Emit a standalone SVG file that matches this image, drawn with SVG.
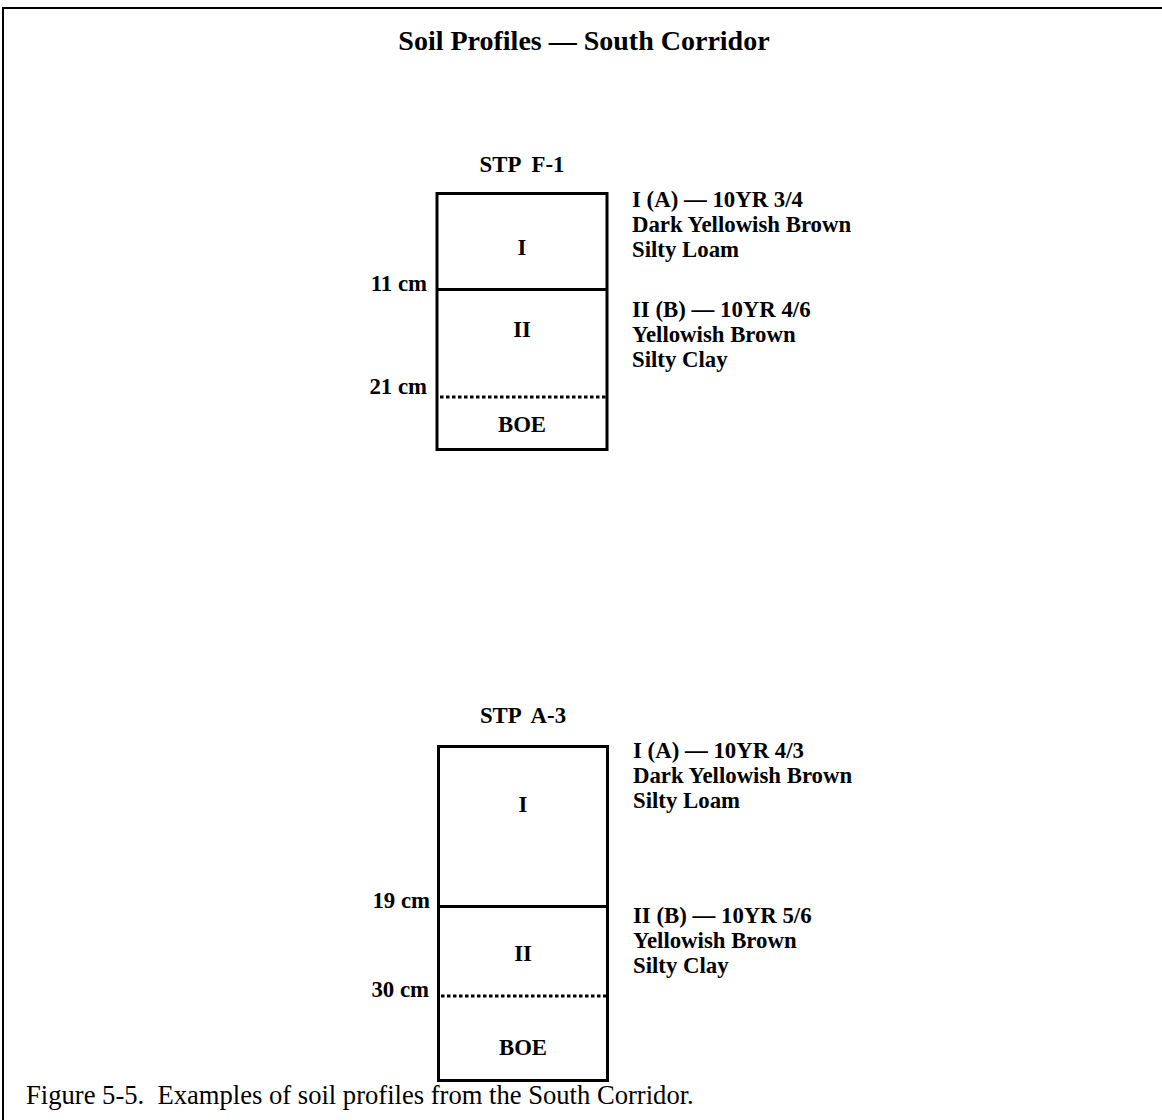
<svg xmlns="http://www.w3.org/2000/svg" width="1162" height="1120" viewBox="0 0 1162 1120">
<style>
  text { font-family: "Liberation Serif", "Times New Roman", serif; fill: #000; }
  .b { font-weight: bold; font-size: 22.8px; }
  .title { font-weight: bold; font-size: 28px; }
  .cap { font-size: 26.6px; white-space: pre; }
  .mid { text-anchor: middle; }
  .end { text-anchor: end; }
  .box { fill: #fff; stroke: #000; stroke-width: 3; }
  .solid { stroke: #000; stroke-width: 3; fill: none; }
  .dot { stroke: #000; stroke-width: 3; stroke-dasharray: 3.5 2.5; fill: none; }
</style>
<rect x="0" y="0" width="1162" height="1120" fill="#fff"/>
<g id="frame">
  <path d="M3 1120 V8 H1162" fill="none" stroke="#000" stroke-width="2"/>
</g>
<text class="title mid" x="584" y="50">Soil Profiles — South Corridor</text>

<g id="stp-f1">
  <text class="b mid" x="522" y="172" style="white-space:pre">STP  F-1</text>
  <rect class="box" x="437" y="193.5" width="170" height="256"/>
  <line class="solid" x1="437" y1="289.5" x2="607" y2="289.5"/>
  <line class="dot" x1="440" y1="397" x2="607" y2="397"/>
  <text class="b mid" x="522" y="255">I</text>
  <text class="b mid" x="522" y="337">II</text>
  <text class="b mid" x="522" y="432">BOE</text>
  <text class="b end" x="427" y="291">11 cm</text>
  <text class="b end" x="427" y="394">21 cm</text>
  <text class="b" x="632" y="207">I (A) — 10YR 3/4</text>
  <text class="b" x="632" y="232">Dark Yellowish Brown</text>
  <text class="b" x="632" y="257">Silty Loam</text>
  <text class="b" x="632" y="317">II (B) — 10YR 4/6</text>
  <text class="b" x="632" y="342">Yellowish Brown</text>
  <text class="b" x="632" y="367">Silty Clay</text>
</g>

<g id="stp-a3">
  <text class="b mid" x="523" y="723" style="white-space:pre">STP  A-3</text>
  <rect class="box" x="438.5" y="746.5" width="169" height="334"/>
  <line class="solid" x1="438.5" y1="906.5" x2="607.5" y2="906.5"/>
  <line class="dot" x1="441" y1="996" x2="607" y2="996"/>
  <text class="b mid" x="523" y="812">I</text>
  <text class="b mid" x="523" y="961">II</text>
  <text class="b mid" x="523" y="1055">BOE</text>
  <text class="b end" x="430" y="908">19 cm</text>
  <text class="b end" x="429" y="997">30 cm</text>
  <text class="b" x="633" y="758">I (A) — 10YR 4/3</text>
  <text class="b" x="633" y="783">Dark Yellowish Brown</text>
  <text class="b" x="633" y="808">Silty Loam</text>
  <text class="b" x="633" y="923">II (B) — 10YR 5/6</text>
  <text class="b" x="633" y="948">Yellowish Brown</text>
  <text class="b" x="633" y="973">Silty Clay</text>
</g>

<text class="cap" x="26" y="1104">Figure 5-5.  Examples of soil profiles from the South Corridor.</text>
</svg>
